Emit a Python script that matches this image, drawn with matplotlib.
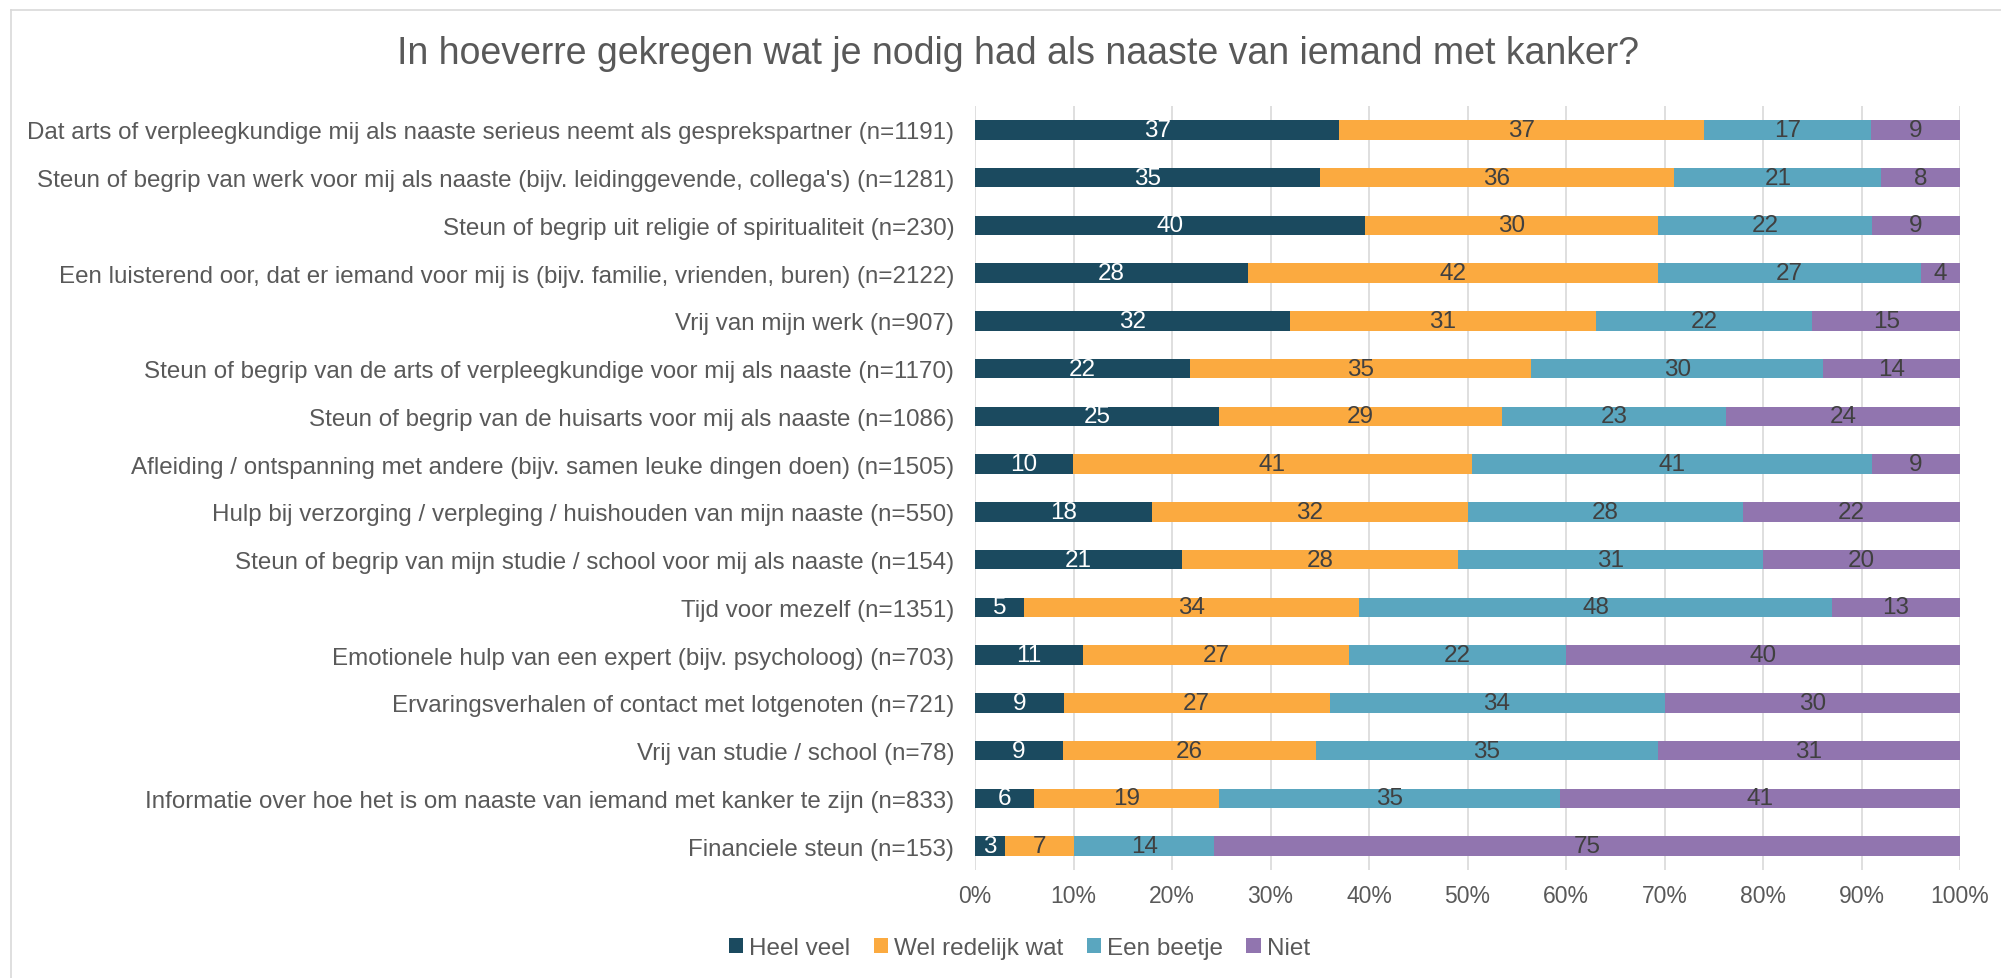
import matplotlib
matplotlib.use("Agg")
import matplotlib.pyplot as plt
import numpy as np
from matplotlib.lines import Line2D

plt.rcParams['font.family'] = ['Liberation Sans', 'DejaVu Sans']

title = "In hoeverre gekregen wat je nodig had als naaste van iemand met kanker?"
categories = [
    "Dat arts of verpleegkundige mij als naaste serieus neemt als gesprekspartner (n=1191)",
    "Steun of begrip van werk voor mij als naaste (bijv. leidinggevende, collega's) (n=1281)",
    "Steun of begrip uit religie of spiritualiteit (n=230)",
    "Een luisterend oor, dat er iemand voor mij is (bijv. familie, vrienden, buren) (n=2122)",
    "Vrij van mijn werk (n=907)",
    "Steun of begrip van de arts of verpleegkundige voor mij als naaste (n=1170)",
    "Steun of begrip van de huisarts voor mij als naaste (n=1086)",
    "Afleiding / ontspanning met andere (bijv. samen leuke dingen doen) (n=1505)",
    "Hulp bij verzorging / verpleging / huishouden van mijn naaste (n=550)",
    "Steun of begrip van mijn studie / school voor mij als naaste (n=154)",
    "Tijd voor mezelf (n=1351)",
    "Emotionele hulp van een expert (bijv. psycholoog) (n=703)",
    "Ervaringsverhalen of contact met lotgenoten (n=721)",
    "Vrij van studie / school (n=78)",
    "Informatie over hoe het is om naaste van iemand met kanker te zijn (n=833)",
    "Financiele steun (n=153)",
]
series_names = ["Heel veel", "Wel redelijk wat", "Een beetje", "Niet"]
heel_veel = [37, 35, 40, 28, 32, 22, 25, 10, 18, 21, 5, 11, 9, 9, 6, 3]
wel_redelijk = [37, 36, 30, 42, 31, 35, 29, 41, 32, 28, 34, 27, 27, 26, 19, 7]
een_beetje = [17, 21, 22, 27, 22, 30, 23, 41, 28, 31, 48, 22, 34, 35, 35, 14]
niet = [9, 8, 9, 4, 15, 14, 24, 9, 22, 20, 13, 40, 30, 31, 41, 75]
x_ticks = [0, 10, 20, 30, 40, 50, 60, 70, 80, 90, 100]

colors = ["#1B4A5F", "#FBAA40", "#5AA6BF", "#9175AF"]
text_colors = ["white", "#404040", "#404040", "#404040"]

W, H = 2001, 979
fig = plt.figure(figsize=(W / 100, H / 100), dpi=100)
ax = fig.add_axes([975 / W, 1 - 871 / H, (1960 - 975) / W, (871 - 107) / H])

data = np.array([heel_veel, wel_redelijk, een_beetje, niet], dtype=float)
totals = data.sum(axis=0)
pct = data / totals * 100
y = np.arange(len(categories))
left = np.zeros(len(categories))
for i, name in enumerate(series_names):
    bars = ax.barh(y, pct[i], left=left, height=0.41, color=colors[i], label=name, zorder=3)
    for j, b in enumerate(bars):
        cx = left[j] + pct[i][j] / 2
        ax.text(cx, y[j], f"{int(data[i][j])}", ha='center', va='center',
                color=text_colors[i], fontsize=17.5, zorder=4)
    left += pct[i]

ax.set_ylim(len(categories) - 0.5, -0.5)
ax.set_xlim(0, 100)
ax.set_yticks(y)
ax.set_yticklabels(categories, fontsize=17.4, color="#595959")
ax.set_xticks(x_ticks)
ax.set_xticklabels([f"{t}%" for t in x_ticks], fontsize=16.5, color="#595959")
ax.tick_params(axis='y', length=0, pad=15)
ax.tick_params(axis='x', length=0, pad=10)
ax.grid(axis='x', color="#D9D9D9", linewidth=1.2, zorder=0)
for s in ax.spines.values():
    s.set_visible(False)

fig.text(0.5086, 1 - 54 / H, title, ha='center', va='center', fontsize=27, color="#595959")

leg = fig.legend(loc='center', bbox_to_anchor=(0.5095, 1 - 949 / H), ncol=4, frameon=False,
                 fontsize=17.5, handlelength=0.6, handleheight=0.6, handletextpad=0.25,
                 columnspacing=0.95, labelcolor="#595959")

fig.add_artist(Line2D([11 / W, 11 / W], [0, 1 - 11 / H], transform=fig.transFigure,
                      color="#D9D9D9", linewidth=1.2))
fig.add_artist(Line2D([11 / W, 1], [1 - 11 / H, 1 - 11 / H], transform=fig.transFigure,
                      color="#D9D9D9", linewidth=1.2))

fig.savefig("out.png", dpi=100, facecolor="white")
